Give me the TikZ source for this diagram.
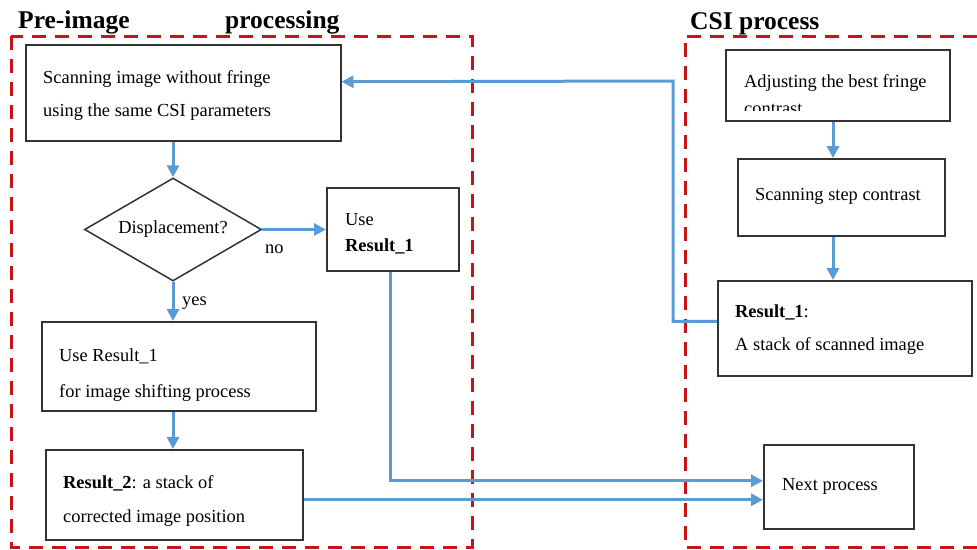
\documentclass[tikz,border=0pt]{standalone}
\usepackage{fontspec}
\setmainfont{Liberation Serif}
\usetikzlibrary{arrows.meta,shapes.geometric}
\definecolor{flowblue}{HTML}{5B9BD5}
\definecolor{dashred}{HTML}{C81414}
\definecolor{boxgray}{HTML}{333333}
\begin{document}
\begin{tikzpicture}[x=1pt,y=-1pt,
  region/.style={draw=dashred,line width=3pt,dash pattern=on 14pt off 9pt},
  box/.style={draw=boxgray,line width=1.5pt,rectangle,inner sep=0pt,anchor=north west},
  txt/.style={anchor=base west,inner sep=0pt,font=\fontsize{18.4}{21}\selectfont},
  ttl/.style={anchor=base west,inner sep=0pt,font=\fontsize{25.5}{28}\selectfont\bfseries},
  arr/.style={draw=flowblue,line width=3pt,-{Triangle[length=12pt,width=12pt]}},
  ln/.style={draw=flowblue,line width=3pt}]
\useasboundingbox (0,0) rectangle (977,549);
% regions
\draw[region] (11,36) rectangle (472,547);
\draw[region] (977,36) -- (685,36) -- (685,547) -- (977,547);
\node[ttl] (t1) at (18,28) {Pre-image};
\node[ttl] (t2) at (225,28) {processing};
\node[ttl] (t3) at (690,29) {CSI process};
% left boxes
\node[box,minimum width=315pt,minimum height=96pt] (scan) at (25,44) {};
\node[txt] (scan1) at (43,83) {Scanning image without fringe};
\node[txt] (scan2) at (43,116) {using the same CSI parameters};
\node[draw=boxgray,line width=1.5pt,diamond,inner sep=0pt,minimum width=177pt,minimum height=103pt,aspect=1.72,font=\fontsize{18.4}{21}\selectfont] (dia) at (173,229.5) {Displacement?};
\node[box,minimum width=132pt,minimum height=83pt] (use) at (326,187) {};
\node[txt] (use1) at (345,225) {Use};
\node[txt] (use2) at (345,251) {\textbf{Result\_1}};
\node[box,minimum width=274pt,minimum height=89pt] (shift) at (41,321) {};
\node[txt] (sh1) at (59,361) {Use Result\_1};
\node[txt] (sh2) at (59,397) {for image shifting process};
\node[box,minimum width=257pt,minimum height=90pt] (res2) at (45,449) {};
\node[txt] (r21) at (63,488) {\textbf{Result\_2}: a stack of};
\node[txt] (r22) at (63,522) {corrected image position};
\node[txt] (no) at (265,253) {no};
\node[txt] (yes) at (182,305) {yes};
% right boxes
\node[box,minimum width=224pt,minimum height=71pt] (adj) at (725,49) {};
\node[txt] (adj1) at (744,87) {Adjusting the best fringe};
\begin{scope}
\clip (726,50) rectangle (948,110);
\node[txt] (adj2) at (744,114) {contrast};
\end{scope}
\node[box,minimum width=207pt,minimum height=77pt] (stp) at (737,158) {};
\node[txt] (stp1) at (755,200) {Scanning step contrast};
\node[box,minimum width=254pt,minimum height=95pt] (res1) at (717,280) {};
\node[txt] (r11) at (735,317) {\textbf{Result\_1}:};
\node[txt] (r12) at (735,350) {A stack of scanned image};
\node[box,minimum width=150pt,minimum height=84pt] (next) at (763,444) {};
\node[txt] (nx) at (782,490) {Next process};
% connectors
\draw[arr] (scan.south -| dia.north) -- (dia.north);
\draw[arr] (dia.east) -- (dia.east -| use.west);
\draw[arr] (dia.south) -- (dia.south |- shift.north);
\draw[arr] (shift.south -| dia.south) -- (dia.south |- res2.north);
\draw[arr] (adj.south -| 833,0) -- (stp.north -| 833,0);
\draw[arr] (stp.south -| 833,0) -- (res1.north -| 833,0);
\coordinate (fb) at (673,81);
\draw[arr] ([yshift=7pt]res1.west) -| (fb) -- ([yshift=11pt]scan.east);
\draw[arr] ([xshift=-2pt]use.south) |- ([yshift=6pt]next.west);
\draw[arr] ([yshift=-5pt]res2.east) -- ([yshift=-13pt]next.west);
\end{tikzpicture}
\end{document}
